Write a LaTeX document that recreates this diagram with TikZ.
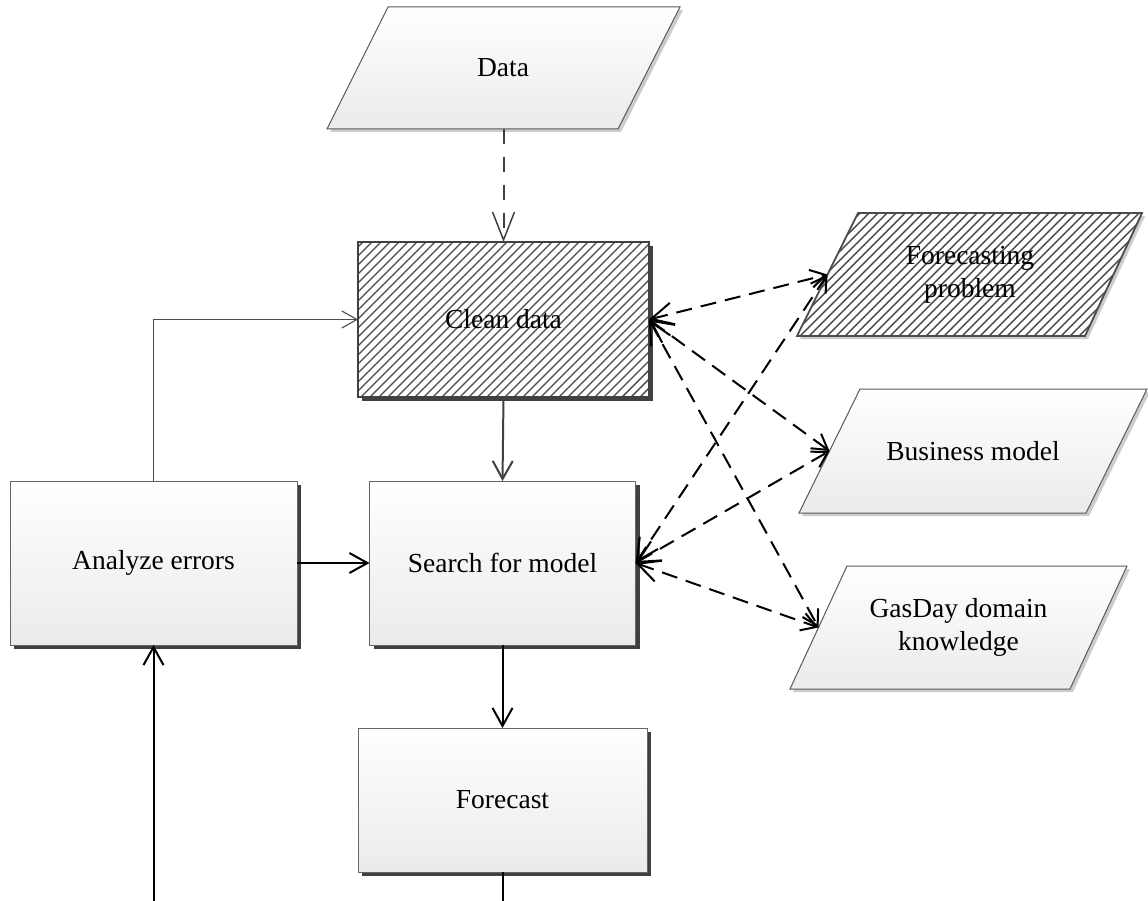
\documentclass[tikz,border=0pt]{standalone}
\usepackage{fontspec}
\setmainfont{Liberation Serif}
\usetikzlibrary{arrows.meta,shadows,calc}
\tikzset{
  lbl/.style={font=\fontsize{27.5}{33}\selectfont, align=center, inner sep=0pt},
  darkshadow/.style={drop shadow={shadow xshift=4pt, shadow yshift=-4pt, fill=black!75, opacity=1}},
  lightshadow/.style={drop shadow={shadow xshift=3pt, shadow yshift=-3pt, fill=black!20, opacity=1}},
  procbox/.style={draw=black!60, line width=1pt, top color=white, bottom color=black!8,
    darkshadow, inner sep=0pt, outer sep=0pt, font=\fontsize{27.5}{33}\selectfont, align=center},
  hatchbox/.style={draw=black!75, line width=2.6pt, darkshadow, fill=white,
    inner sep=0pt, outer sep=0pt, font=\fontsize{27.5}{33}\selectfont, align=center},
  iobox/.style={draw=black!65, line width=1pt, top color=white, bottom color=black!8, lightshadow},
  iohatch/.style={lightshadow, fill=white},
  hatchline/.style={line width=1.4pt, draw=black!72},
  flow/.style={line width=2pt, -{Straight Barb[length=18pt,width=20pt,line width=2pt]}},
  grayflow/.style={line width=2pt, draw=black!75, -{Straight Barb[length=18pt,width=20pt,line width=2pt]}},
  thinflow/.style={line width=1.1pt, draw=black!70, -{Straight Barb[length=15pt,width=17pt,line width=1.1pt]}},
  dataflow/.style={line width=2pt, draw=black!75, dash pattern=on 15pt off 13pt,
    -{Straight Barb[length=28pt,width=22pt,line width=1.5pt]}},
  infoflow/.style={line width=2pt, dash pattern=on 16pt off 9pt,
    {Straight Barb[length=22pt,width=22pt,line width=2pt]}-{Straight Barb[length=15pt,width=18pt,line width=2pt]}}
}
\begin{document}
\begin{tikzpicture}[x=1pt,y=-1pt]
\useasboundingbox (0,0) rectangle (1148,901);

% process boxes
\node[hatchbox, minimum width=291pt, minimum height=155pt] (clean) at (503.5,319.5) {};
\begin{scope}
  \clip (clean.south west) rectangle (clean.north east);
  \foreach \i in {196,205,...,650} {
    \draw[hatchline] (\i,400) -- ++(160,-160);
  }
\end{scope}
\draw[draw=black!75, line width=2.6pt] (clean.south west) rectangle (clean.north east);
\node[lbl] (cleantext) at (clean.center) {Clean data};

\node[procbox, minimum width=266pt, minimum height=164pt] (search) at (502.5,563) {Search for model};
\node[procbox, minimum width=287pt, minimum height=164pt] (analyze) at (153.5,563) {Analyze errors};
\node[procbox, minimum width=289pt, minimum height=144pt] (forecast) at (502.5,800) {Forecast};

% data (parallelogram)
\path[iobox] (388,7) -- (680,7) -- (618,129) -- (327,129) -- cycle;
\node[lbl] (data) at (503,68) {Data};
\coordinate (dout) at (503.5,129);

% forecasting problem (hatched)
\path[iohatch] (858,213) -- (1142,213) -- (1085,336) -- (797,336) -- cycle;
\begin{scope}
  \clip (858,213) -- (1142,213) -- (1085,336) -- (797,336) -- cycle;
  \foreach \i in {670,679,...,1150} {
    \draw[hatchline] (\i,340) -- ++(130,-130);
  }
\end{scope}
\draw[draw=black!70, line width=1.8pt] (858,213) -- (1142,213) -- (1085,336) -- (797,336) -- cycle;
\node[lbl] (fptext) at (970,275) {Forecasting\\problem};
\coordinate (fp) at (827.5,274.5);

% business model
\path[iobox] (860,389) -- (1147,389) -- (1086,513) -- (799,513) -- cycle;
\node[lbl] (bmtext) at (973,451) {Business model};
\coordinate (bm) at (829.5,451);

% gasday
\path[iobox] (847,566) -- (1127,566) -- (1070,689) -- (790,689) -- cycle;
\node[lbl] (gdtext) at (958.5,627.5) {GasDay domain\\knowledge};
\coordinate (gd) at (818.5,627.5);

% open ends at the bottom
\coordinate (fout) at (502.5,901);
\coordinate (ain) at (153.5,901);

% connectors
\draw[dataflow] (dout) -- (clean.north);
\draw[grayflow] (clean.south) -- (search.north);
\draw[flow] (search.south) -- (forecast.north);
\draw[line width=2pt] (forecast.south) -- (fout);
\draw[flow] (ain) -- (analyze.south);
\draw[flow] (analyze.east) -- (search.west);
\draw[thinflow] (analyze.north) |- (clean.west);

\draw[infoflow] (clean.east) -- (fp);
\draw[infoflow] (clean.east) -- (bm);
\draw[infoflow] (clean.east) -- (gd);
\draw[infoflow] (search.east) -- (fp);
\draw[infoflow] (search.east) -- (bm);
\draw[infoflow] (search.east) -- (gd);
\end{tikzpicture}
\end{document}
